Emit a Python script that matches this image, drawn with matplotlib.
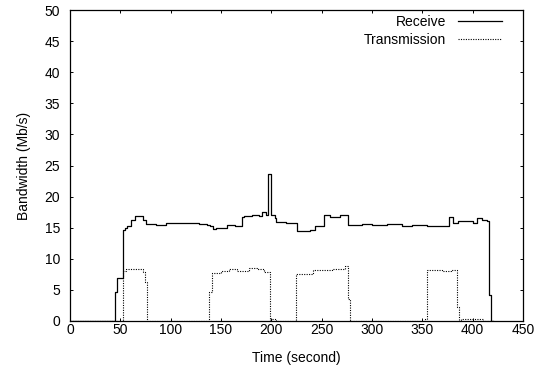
import matplotlib
matplotlib.use("Agg")
import matplotlib.pyplot as plt

plt.rcParams["font.family"] = ["Liberation Sans", "DejaVu Sans"]
plt.rcParams["font.size"] = 10

# step data (time in s, bandwidth in Mb/s)
rx_time = [0, 44.7, 47, 53, 55, 57, 61, 64.6, 72.8, 75.2, 85, 95, 105, 118,
           128, 136, 139, 142, 145, 156, 164, 171, 173, 181, 188, 191, 195,
           197, 199.4, 203.6, 205, 215, 225.2, 232, 238.4, 243.4, 252.3, 258,
           268, 276.5, 279, 290, 300, 315, 330, 340, 354.3, 376.8, 380.8, 385,
           395, 400, 404, 409, 414, 416.2, 418.2, 420]
rx_bw = [0, 4.7, 6.9, 14.7, 15.0, 15.2, 16.2, 16.9, 16.2, 15.6, 15.5, 15.7,
         15.8, 15.7, 15.6, 15.4, 15.2, 14.8, 15.0, 15.4, 15.3, 16.7, 16.9,
         17.0, 16.9, 17.5, 17.1, 23.7, 17.1, 16.5, 15.9, 15.8, 14.4, 14.5,
         14.6, 15.2, 17.0, 16.8, 17.1, 15.4, 15.5, 15.6, 15.5, 15.6, 15.3,
         15.5, 15.2, 16.7, 15.7, 16.0, 16.1, 15.8, 16.5, 16.3, 16.0, 4.2, 0, 0]

tx_time = [0, 53, 56, 62, 72.8, 74.5, 76.8, 138, 140.7, 150, 158, 166, 178,
           186, 192.7, 198.7, 200, 205, 224.5, 241.7, 260, 273, 275.8, 278,
           352.5, 354.3, 370, 378, 384, 386.7, 388, 410, 420]
tx_bw = [0, 8.1, 8.4, 8.3, 7.9, 6.3, 0, 4.7, 7.7, 8.0, 8.3, 8.1, 8.5, 8.3,
         7.9, 0, 0.3, 0, 7.6, 8.2, 8.4, 8.8, 3.6, 0, 0.4, 8.2, 8.0, 8.2, 2.3,
         0, 0.3, 0, 0]

x_ticks = list(range(0, 451, 50))
y_ticks = list(range(0, 51, 5))

fig = plt.figure(figsize=(5.41, 3.75), dpi=100)
ax = fig.add_axes((70 / 541, 1 - 321 / 375, 453 / 541, 311 / 375))

ax.step(rx_time, rx_bw, where="post", color="black", lw=0.9, label="Receive")
ax.step(tx_time, tx_bw, where="post", color="black", lw=0.8,
        linestyle=(0, (1, 1.2)), label="Transmission")

ax.set_xlim(0, 450)
ax.set_ylim(0, 50)
ax.set_xticks(x_ticks)
ax.set_yticks(y_ticks)
ax.tick_params(direction="in", top=True, right=True, length=2.5, width=0.7)
ax.tick_params(axis="x", pad=1.5)
ax.tick_params(axis="y", pad=7)
for s in ax.spines.values():
    s.set_linewidth(0.9)

ax.set_xlabel("Time (second)", labelpad=10)
ax.set_ylabel("Bandwidth (Mb/s)", labelpad=9.5)

ax.legend(loc="upper right", bbox_to_anchor=(0.9536, 0.983), frameon=False,
          markerfirst=False, borderpad=0, borderaxespad=0, handlelength=3.2,
          handletextpad=0.8, labelspacing=0.25)

fig.savefig("out.png", dpi=100)
